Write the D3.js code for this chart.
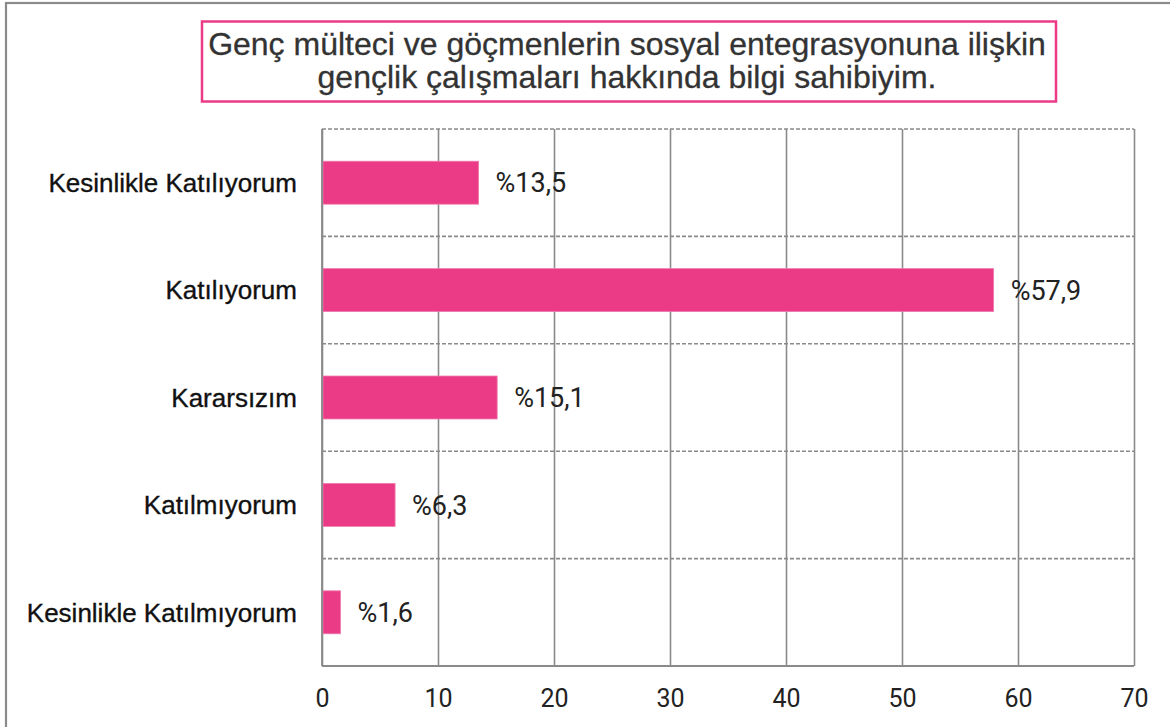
<!DOCTYPE html>
<html><head><meta charset="utf-8">
<script src="https://cdn.jsdelivr.net/npm/d3@7"></script>
<style>html,body{margin:0;padding:0;background:#fff;overflow:hidden}svg{display:block}</style>
</head><body>
<svg id="c" width="1170" height="727"></svg>
<script>
const categories = ["Kesinlikle Katılıyorum","Katılıyorum","Kararsızım","Katılmıyorum","Kesinlikle Katılmıyorum"];
const values = [13.5, 57.9, 15.1, 6.3, 1.6];
const valueLabels = ["%13,5","%57,9","%15,1","%6,3","%1,6"];
const ticks = [0,10,20,30,40,50,60,70];
const titleLines = ["Genç mülteci ve göçmenlerin sosyal entegrasyonuna ilişkin","gençlik çalışmaları hakkında bilgi sahibiyim."];

const svg = d3.select("#c");
const font = "Roboto, 'Liberation Sans', Arial, sans-serif";
const font2 = "'Liberation Sans', Arial, Helvetica, sans-serif";
const m = {left:322, right:1134, top:129, bottom:666};
const x = d3.scaleLinear().domain([0,70]).range([m.left, m.right]);
const y = d3.scaleBand().domain(categories).range([m.top, m.bottom]).paddingInner(0).paddingOuter(0);
const grey = "#8a8a8a";
const pink = "#EB3B86";

// outer frame
svg.append("rect").attr("x",6).attr("y",3).attr("width",1200).attr("height",760)
  .attr("fill","none").attr("stroke",grey).attr("stroke-width",2.2);

// title box
svg.append("rect").attr("x",202).attr("y",21.5).attr("width",854).attr("height",80)
  .attr("fill","#fff").attr("stroke",pink).attr("stroke-width",2.5);
const tt = svg.append("text").attr("font-family",font2).attr("fill","#333").attr("text-anchor","middle")
  .attr("stroke","#333").attr("stroke-width",0.3);
titleLines.forEach((t,i)=>{
  tt.append("tspan").attr("x",627).attr("y",i===0?55:88).text(t).attr("font-size",32);
});

// horizontal dashed lines at band boundaries (top boundaries)
svg.append("g").selectAll("line").data(categories).join("line")
  .attr("x1",m.left).attr("x2",m.right)
  .attr("y1",d=>y(d)).attr("y2",d=>y(d))
  .attr("stroke",grey).attr("stroke-width",1.6).attr("stroke-dasharray","4,2");

// vertical gridlines via axis
const gx = svg.append("g").attr("transform",`translate(0,${m.bottom})`)
  .call(d3.axisBottom(x).tickValues(ticks).tickSize(-(m.bottom-m.top)).tickFormat(d3.format("d")).tickPadding(18));
gx.select(".domain").remove();
gx.selectAll(".tick line").attr("stroke",grey).attr("stroke-width",1.6);
gx.selectAll(".tick text").attr("font-family",font).attr("font-size",25).attr("fill","#222").attr("dy","0.9em");

// bottom axis line
svg.append("line").attr("x1",m.left).attr("x2",m.right).attr("y1",m.bottom).attr("y2",m.bottom)
  .attr("stroke",grey).attr("stroke-width",1.8);

// bars
const bh = y.bandwidth()*0.4;
svg.append("g").selectAll("rect").data(categories).join("rect")
  .attr("x",x(0)+1).attr("y",d=>y(d)+y.bandwidth()/2-bh/2)
  .attr("width",(d,i)=>x(values[i])-x(0)-1).attr("height",bh)
  .attr("fill",pink).attr("stroke","#F07AAE").attr("stroke-width",0.8);

// value labels
svg.append("g").selectAll("text").data(categories).join("text")
  .attr("x",(d,i)=>x(values[i])+17).attr("y",d=>y(d)+y.bandwidth()/2)
  .attr("dy","0.36em").attr("font-family",font).attr("font-size",27).attr("fill","#222")
  .text((d,i)=>valueLabels[i]);

// category labels
svg.append("g").selectAll("text").data(categories).join("text")
  .attr("x",297).attr("y",d=>y(d)+y.bandwidth()/2)
  .attr("dy","0.36em").attr("text-anchor","end").attr("font-family",font2).attr("font-size",26).attr("fill","#111")
  .attr("stroke","#111").attr("stroke-width",0.35)
  .text(d=>d);

// left axis line
svg.append("line").attr("x1",m.left).attr("x2",m.left).attr("y1",m.top).attr("y2",m.bottom)
  .attr("stroke",grey).attr("stroke-width",1.8);
</script>
</body></html>
